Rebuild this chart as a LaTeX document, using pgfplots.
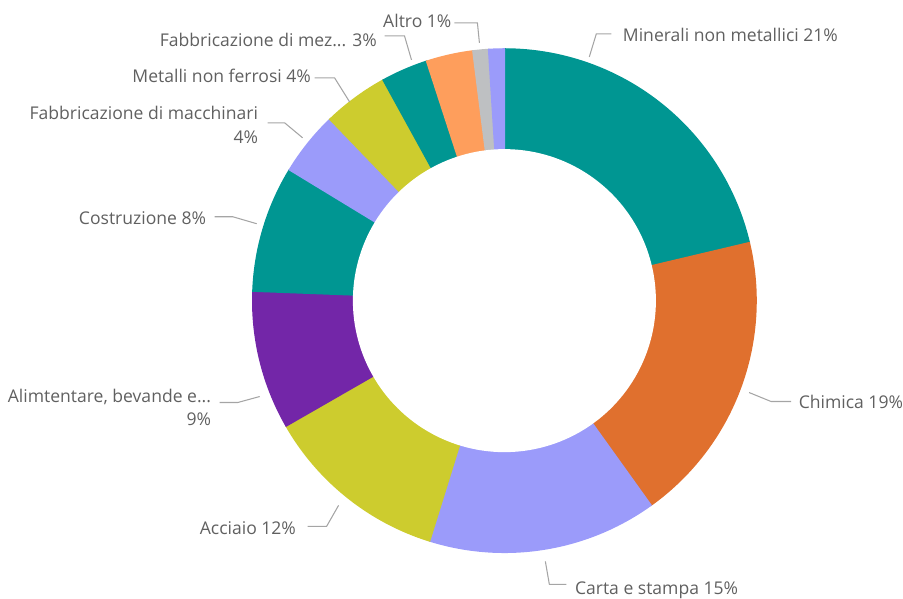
\documentclass[border=0pt]{standalone}
\usepackage{fontspec}
\setmainfont{Open Sans}
\usepackage{pgfplots}
\pgfplotsset{compat=1.18}
\definecolor{cteal}{RGB}{0,150,146}
\definecolor{corange}{RGB}{224,112,46}
\definecolor{clav}{RGB}{155,155,250}
\definecolor{cyel}{RGB}{205,204,46}
\definecolor{cpurp}{RGB}{115,38,168}
\definecolor{clorange}{RGB}{254,158,92}
\definecolor{cgray}{RGB}{190,192,194}
\definecolor{labtext}{RGB}{96,96,96}
\definecolor{leader}{RGB}{165,165,165}
% segment: colour, cumulative start (%), value (%)
\newcommand{\seg}[3]{%
  \pgfmathsetmacro\segA{90-3.6*(#2)}%
  \pgfmathsetmacro\segB{90-3.6*(#2+#3)}%
  \addplot[fill=#1, draw=#1, line width=0.4pt, data cs=polar, domain=\segA:\segB, samples=60]
    ({x},{252}) -- (axis cs:0,0) -- cycle;
}
\tikzset{lab/.style={font=\fontsize{5.0pt}{6pt}\selectfont, text=labtext, inner sep=0pt},
         lead/.style={draw=leader, line width=0.3pt}}
\begin{document}
\begin{tikzpicture}
\begin{axis}[width=9.03cm, height=5.97cm, scale only axis,
  xmin=-505, xmax=398, ymin=-296, ymax=301, hide axis, clip=false]
\path (axis cs:-505,-296) rectangle (axis cs:398,301);
% name                      start  value
\seg{cteal}{0}{21.3}     % Minerali non metallici
\seg{corange}{21.3}{18.8} % Chimica
\seg{clav}{40.1}{14.7}   % Carta e stampa
\seg{cyel}{54.8}{11.9}   % Acciaio
\seg{cpurp}{66.7}{8.9}   % Alimentare
\seg{cteal}{75.6}{8.1}   % Costruzione
\seg{clav}{83.7}{4.1}    % Fabbricazione di macchinari
\seg{cyel}{87.8}{4.2}    % Metalli non ferrosi
\seg{cteal}{92.0}{3.0}   % Fabbricazione di mezzi
\seg{clorange}{95.0}{3.0} % (unlabelled)
\seg{cgray}{98.0}{1.0}   % Altro
\seg{clav}{99.0}{1.0}    % (unlabelled)
\addplot[fill=white, draw=white, data cs=polar, domain=0:360, samples=180] ({x},{151}) -- cycle;
% leader lines
\draw[lead] (axis cs:85,244) -- (axis cs:92,267) -- (axis cs:107,267);
\draw[lead] (axis cs:245,-92) -- (axis cs:267,-101) -- (axis cs:287,-101);
\draw[lead] (axis cs:41,-261) -- (axis cs:45,-284) -- (axis cs:62,-284);
\draw[lead] (axis cs:-166,-205) -- (axis cs:-178,-226) -- (axis cs:-197,-226);
\draw[lead] (axis cs:-245,-96) -- (axis cs:-267,-102) -- (axis cs:-285,-102);
\draw[lead] (axis cs:-248,77) -- (axis cs:-272,84) -- (axis cs:-290,84);
\draw[lead] (axis cs:-202,163) -- (axis cs:-220,178) -- (axis cs:-237,178);
\draw[lead] (axis cs:-155,199) -- (axis cs:-170,223) -- (axis cs:-190,223);
\draw[lead] (axis cs:-93,241) -- (axis cs:-100,265) -- (axis cs:-120,265);
\draw[lead] (axis cs:-25,258) -- (axis cs:-27,278) -- (axis cs:-50,278);
% labels
\node[lab, anchor=base west] at (axis cs:118,259) {Minerali non metallici 21\%};
\node[lab, anchor=base west] at (axis cs:294,-108) {Chimica 19\%};
\node[lab, anchor=base west] at (axis cs:70,-294) {Carta e stampa 15\%};
\node[lab, anchor=base east] at (axis cs:-208,-234) {Acciaio 12\%};
\node[lab, anchor=base east] at (axis cs:-293,-102) {Alimtentare, bevande e...};
\node[lab, anchor=base east] at (axis cs:-293,-125) {9\%};
\node[lab, anchor=base east] at (axis cs:-298,76) {Costruzione 8\%};
\node[lab, anchor=base east] at (axis cs:-246,181) {Fabbricazione di macchinari};
\node[lab, anchor=base east] at (axis cs:-246,157) {4\%};
\node[lab, anchor=base east] at (axis cs:-193,218) {Metalli non ferrosi 4\%};
\node[lab, anchor=base east] at (axis cs:-127,254) {Fabbricazione di mez... 3\%};
\node[lab, anchor=base west] at (axis cs:-122,273) {Altro 1\%};
\end{axis}
\end{tikzpicture}
\end{document}
